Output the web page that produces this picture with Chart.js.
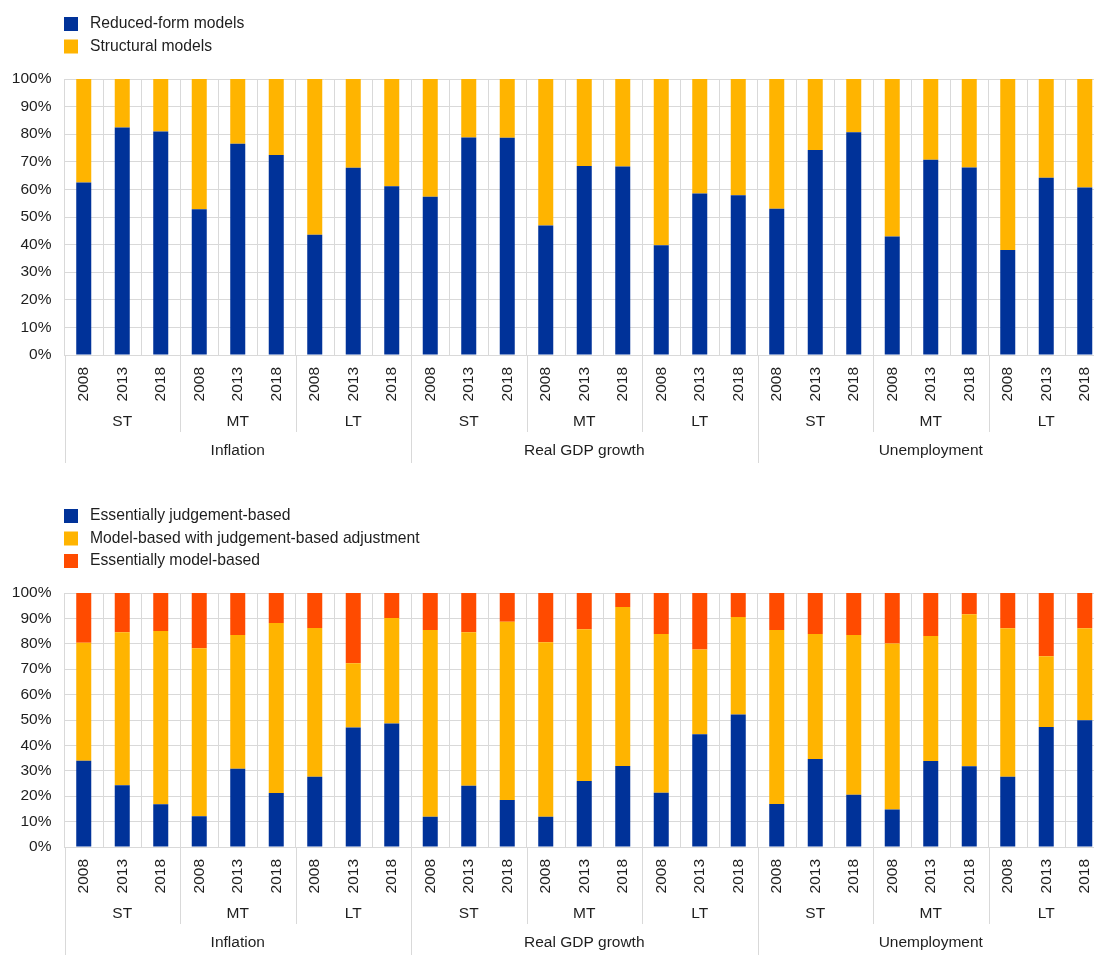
<!DOCTYPE html>
<html>
<head>
<meta charset="utf-8">
<script src="https://cdn.jsdelivr.net/npm/chart.js@4/dist/chart.umd.min.js"></script>
<style>
  html, body { margin: 0; padding: 0; background: #fff; overflow: hidden; }
  #wrap { position: relative; width: 1094px; height: 955px; overflow: hidden; }
  canvas { position: absolute; left: 0; }
  #c1 { top: 0; }
  #c2 { top: 475px; }
</style>
</head>
<body>
<div id="wrap">
  <canvas id="c1" width="1104" height="475"></canvas>
  <canvas id="c2" width="1104" height="480"></canvas>
</div>
<script>
// categories
const years = ['2008', '2013', '2018'];
const terms = ['ST', 'MT', 'LT'];
const variables = ['Inflation', 'Real GDP growth', 'Unemployment'];

// top panel (% of respondents)
const reducedForm = [62.5, 82.4, 81.0, 52.8, 76.5, 72.5, 43.6, 67.8, 61.1,
                     57.3, 78.8, 78.7, 46.9, 68.5, 68.3, 39.8, 58.5, 57.9,
                     53.0, 74.3, 80.7, 42.9, 70.7, 67.9, 38.0, 64.2, 60.7];
const structural = [37.5, 17.6, 19.0, 47.2, 23.5, 27.5, 56.4, 32.2, 38.9,
                    42.7, 21.2, 21.3, 53.1, 31.5, 31.7, 60.2, 41.5, 42.1,
                    47.0, 25.7, 19.3, 57.1, 29.3, 32.1, 62.0, 35.8, 39.3];

// bottom panel
const judgementBased = [34.0, 24.3, 16.8, 12.1, 30.8, 21.3, 27.7, 47.0, 48.6,
                        11.9, 24.1, 18.5, 11.9, 26.0, 31.9, 21.4, 44.4, 52.2,
                        16.9, 34.6, 20.6, 14.8, 33.9, 31.8, 27.7, 47.2, 49.9];
const modelWithAdj = [46.4, 60.2, 68.2, 66.1, 52.7, 66.9, 58.5, 25.3, 41.6,
                      73.5, 60.4, 70.2, 68.7, 59.7, 62.6, 62.5, 33.4, 38.4,
                      68.5, 49.3, 62.9, 65.3, 49.2, 59.8, 58.4, 27.9, 36.2];
const modelBased = [19.6, 15.5, 15.0, 21.8, 16.5, 11.8, 13.8, 27.7, 9.8,
                    14.6, 15.5, 11.3, 19.4, 14.3, 5.5, 16.1, 22.2, 9.4,
                    14.6, 16.1, 16.5, 19.9, 16.9, 8.4, 13.9, 24.9, 13.9];

const yTicks = [0, 10, 20, 30, 40, 50, 60, 70, 80, 90, 100];

const BLUE = '#003299', YELLOW = '#FFB400', RED = '#FF4B00';
const GRID = '#d9d9d9', TXT = '#1e1e1e';
const FONT = '"Liberation Sans", Arial, sans-serif';

// flat label list year/term/variable
const labels = [];
variables.forEach(v => terms.forEach(t => years.forEach(y => labels.push([y, t, v]))));

Chart.defaults.font.family = FONT;
Chart.defaults.font.size = 15.5;
Chart.defaults.color = TXT;

// legend stacked vertically + multi-level x labels
const drawExtras = {
  id: 'drawExtras',
  afterDraw(chart, args, opts) {
    const ctx = chart.ctx;
    const xs = chart.scales.x;
    const area = chart.chartArea;
    const n = chart.data.labels.length;
    ctx.save();

    // legend
    ctx.font = '15.7px ' + FONT;
    ctx.textBaseline = 'middle';
    ctx.textAlign = 'left';
    chart.data.datasets.forEach((ds, k) => {
      const cy = opts.legendTop + k * opts.legendStep;
      ctx.fillStyle = ds.backgroundColor;
      ctx.fillRect(64, cy - 7, 14, 14);
      ctx.fillStyle = TXT;
      ctx.fillText(ds.label, 90, cy);
    });

    const edge = i => {
      if (i <= 0) return area.left;
      if (i >= n) return area.right;
      return (xs.getPixelForValue(i - 1) + xs.getPixelForValue(i)) / 2;
    };
    const b = area.bottom;

    // separator lines below axis
    ctx.strokeStyle = GRID;
    ctx.lineWidth = 1;
    for (let i = 0; i <= n; i += 3) {
      const x = Math.round(edge(i)) + 0.5;
      ctx.beginPath();
      ctx.moveTo(x, b);
      ctx.lineTo(x, b + (i % 9 === 0 ? 108 : 77));
      ctx.stroke();
    }

    ctx.fillStyle = TXT;
    ctx.font = '15.5px ' + FONT;
    // years, rotated
    for (let i = 0; i < n; i++) {
      ctx.save();
      ctx.translate(xs.getPixelForValue(i), b + 12);
      ctx.rotate(-Math.PI / 2);
      ctx.textAlign = 'right';
      ctx.textBaseline = 'middle';
      ctx.fillText(chart.data.labels[i][0], 0, 0);
      ctx.restore();
    }
    ctx.textAlign = 'center';
    ctx.textBaseline = 'middle';
    // terms
    for (let i = 0; i < n; i += 3) {
      const cx = (xs.getPixelForValue(i) + xs.getPixelForValue(i + 2)) / 2;
      ctx.fillText(chart.data.labels[i][1], cx, b + 67);
    }
    // variables
    for (let i = 0; i < n; i += 9) {
      const cx = (xs.getPixelForValue(i) + xs.getPixelForValue(i + 8)) / 2;
      ctx.fillText(chart.data.labels[i][2], cx, b + 96);
    }
    ctx.restore();
  }
};

function makeChart(id, datasets, padTop, xHeight, legendTop, legendStep) {
  return new Chart(document.getElementById(id), {
    type: 'bar',
    data: {
      labels: labels,
      datasets: datasets.map(d => ({
        label: d.label,
        data: d.data,
        backgroundColor: d.color,
        borderWidth: 0,
        categoryPercentage: 1,
        barPercentage: 0.39
      }))
    },
    options: {
      responsive: false,
      animation: false,
      devicePixelRatio: 1,
      layout: { padding: { top: padTop, right: 0, left: 0, bottom: 0 } },
      plugins: {
        legend: { display: false },
        tooltip: { enabled: false },
        drawExtras: { legendTop: legendTop, legendStep: legendStep }
      },
      scales: {
        x: {
          stacked: true,
          grid: { color: GRID, offset: true, drawTicks: false },
          border: { color: GRID },
          ticks: { display: false },
          afterFit: s => { s.height = xHeight; }
        },
        y: {
          stacked: true,
          min: 0,
          max: 100,
          afterBuildTicks: s => { s.ticks = yTicks.map(v => ({ value: v })); },
          grid: { color: GRID, drawTicks: false },
          border: { color: GRID },
          ticks: { padding: 13, callback: v => v + '%' },
          afterFit: s => { s.width = 64.5; }
        }
      }
    },
    plugins: [drawExtras]
  });
}

makeChart('c1', [
  { label: 'Reduced-form models', data: reducedForm, color: BLUE },
  { label: 'Structural models', data: structural, color: YELLOW }
], 79, 120, 24, 22.5);

makeChart('c2', [
  { label: 'Essentially judgement-based', data: judgementBased, color: BLUE },
  { label: 'Model-based with judgement-based adjustment', data: modelWithAdj, color: YELLOW },
  { label: 'Essentially model-based', data: modelBased, color: RED }
], 118, 108, 41, 22.5);
</script>
</body>
</html>
